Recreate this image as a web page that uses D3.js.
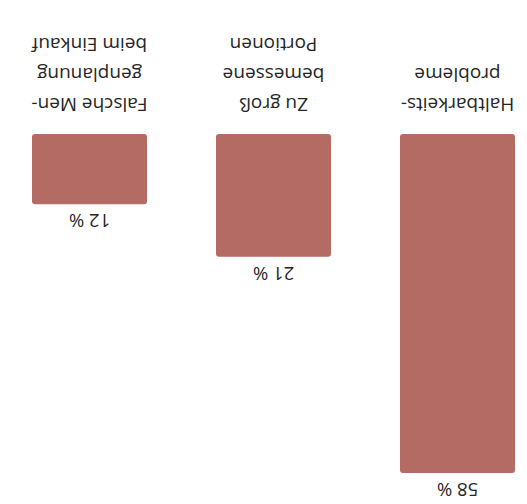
<!DOCTYPE html>
<html>
<head>
<meta charset="utf-8">
<script src="https://cdn.jsdelivr.net/npm/d3@7"></script>
<style>
  body { margin: 0; background: #fff; }
  text { font-family: "Open Sans", "Noto Sans", sans-serif; fill: #262626; }
</style>
</head>
<body>
<script>
// data
const categories = ["Haltbarkeitsprobleme", "Zu groß bemessene Portionen", "Falsche Mengenplanung beim Einkauf"]
const labelLines = [
    ["Haltbarkeits-", "probleme"],
    ["Zu groß", "bemessene", "Portionen"],
    ["Falsche Men-", "genplanung", "beim Einkauf"]
]
const values = [58, 21, 12]

const width = 527
const height = 504

const svg = d3.select("body")
    .append("svg")
    .attr("width", width)
    .attr("height", height)

// the whole chart is shown upside down
const g = svg.append("g")
    .attr("transform", `rotate(180, ${width/2}, ${height/2})`)

const x = d3.scaleBand()
    .domain(categories)
    .range([12, 495])
    .paddingInner(0.375)
    .paddingOuter(0)

const y = d3.scaleLinear()
    .domain([0, 58])
    .range([370, 31])

const data = categories.map((c, i) => ({cat: c, value: values[i], lines: labelLines[i]}))

g.selectAll(".bar")
    .data(data)
    .join("rect")
    .attr("class", "bar")
    .attr("x", d => x(d.cat))
    .attr("y", d => y(d.value))
    .attr("width", x.bandwidth())
    .attr("height", d => y(0) - y(d.value))
    .attr("rx", 3)
    .attr("fill", "#b46b63")

g.selectAll(".val")
    .data(data)
    .join("text")
    .attr("class", "val")
    .attr("x", d => x(d.cat) + x.bandwidth()/2)
    .attr("y", d => y(d.value) - 10)
    .attr("text-anchor", "middle")
    .attr("font-size", 18.5)
    .text(d => d.value + " %")

const cats = g.selectAll(".cat")
    .data(data)
    .join("text")
    .attr("class", "cat")
    .attr("text-anchor", "middle")
    .attr("font-size", 19)

cats.selectAll("tspan")
    .data(d => d.lines.map(l => ({l, cx: x(d.cat) + x.bandwidth()/2})))
    .join("tspan")
    .attr("x", d => d.cx)
    .attr("y", (d, i) => y(0) + 29 + i*30)
    .attr("dominant-baseline", "central")
    .text(d => d.l)
</script>
</body>
</html>
